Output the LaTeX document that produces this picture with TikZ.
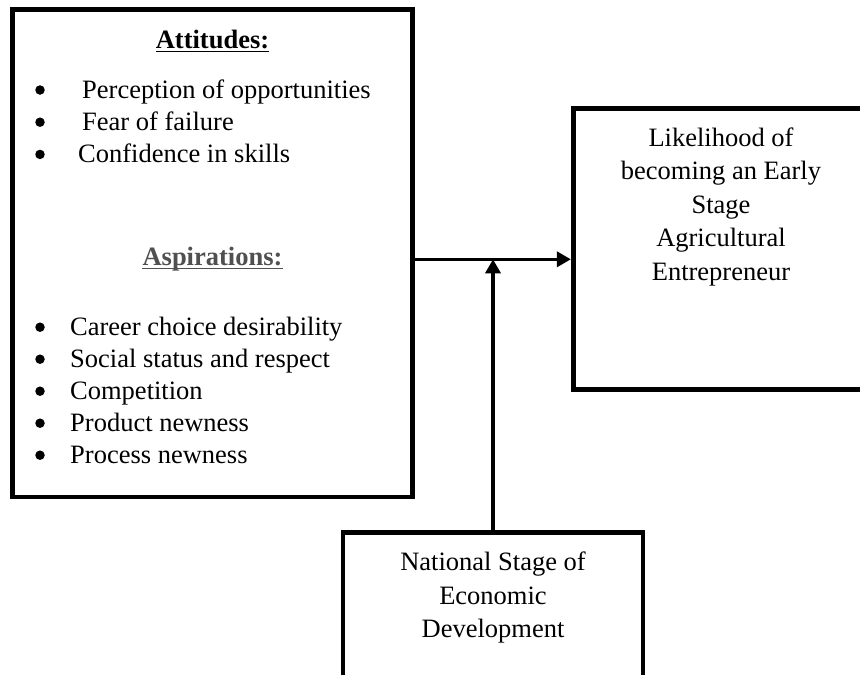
\documentclass[tikz,border=0pt]{standalone}
\usepackage{fontspec}
\setmainfont{Liberation Serif}
\usetikzlibrary{arrows.meta}
\definecolor{aspgray}{RGB}{80,80,80}
\begin{document}
\begin{tikzpicture}[x=1pt,y=-1pt,
  box/.style={draw, line width=4.8pt, inner sep=0pt},
  txt/.style={inner sep=0pt, font=\fontsize{26.5}{32}\selectfont},
  item/.style={txt, anchor=base west},
  ctr/.style={txt, anchor=base},
  bul/.style={circle, fill, inner sep=0pt, minimum size=9.5pt},
  ul/.style={line width=1.8pt},
  arr/.style={line width=3.6pt, -{Triangle[length=14pt,width=15pt]}}
]
\clip (0,0) rectangle (860,675);
\fill[white] (0,0) rectangle (860,675);

% boxes
\node[box, minimum width=400pt, minimum height=487.5pt] (left) at (212.5,253.25) {};
\node[box, minimum width=306.7pt, minimum height=281pt] (right) at (726.65,249.2) {};
\node[box, minimum width=300pt, minimum height=167.5pt] (bot) at (493,616.25) {};

% left box: attitudes
\node[ctr, font=\fontsize{26.5}{32}\selectfont\bfseries] (att) at (212.5,48) {Attitudes:};
\draw[ul] ([yshift=-3.5pt]att.base west) -- ([yshift=-3.5pt]att.base east);
\node[bul] (b1) at (40,90) {};
\node[bul] (b2) at (40,122.2) {};
\node[bul] (b3) at (40,154.4) {};
\node[item] (a1) at (82,98.3) {Perception of opportunities};
\node[item] (a2) at (82,130.5) {Fear of failure};
\node[item] (a3) at (78,162.7) {Confidence in skills};

% left box: aspirations
\node[ctr, font=\fontsize{26.5}{32}\selectfont\bfseries, text=aspgray] (asp) at (212.5,265) {Aspirations:};
\draw[ul, aspgray] ([yshift=-3.5pt]asp.base west) -- ([yshift=-3.5pt]asp.base east);
\node[bul] (c1) at (40,327.2) {};
\node[bul] (c2) at (40,359.2) {};
\node[bul] (c3) at (40,391.2) {};
\node[bul] (c4) at (40,423.2) {};
\node[bul] (c5) at (40,455.2) {};
\node[item] (s1) at (70,335.5) {Career choice desirability};
\node[item] (s2) at (70,367.5) {Social status and respect};
\node[item] (s3) at (70,399.5) {Competition};
\node[item] (s4) at (70,431.5) {Product newness};
\node[item] (s5) at (70,463.5) {Process newness};

% right box text
\node[ctr] (r1) at (721,146) {Likelihood of};
\node[ctr] (r2) at (721,179.5) {becoming an Early};
\node[ctr] (r3) at (721,213) {Stage};
\node[ctr] (r4) at (721,246.5) {Agricultural};
\node[ctr] (r5) at (721,280) {Entrepreneur};

% bottom box text
\node[ctr] (n1) at (493,570) {National Stage of};
\node[ctr] (n2) at (493,604) {Economic};
\node[ctr] (n3) at (493,637) {Development};

% connectors
\coordinate (h) at (493,259.3);
\draw[arr] (left.east |- h) -- (right.west |- h);
\draw[arr] (bot.north) -- (h);
\end{tikzpicture}
\end{document}
